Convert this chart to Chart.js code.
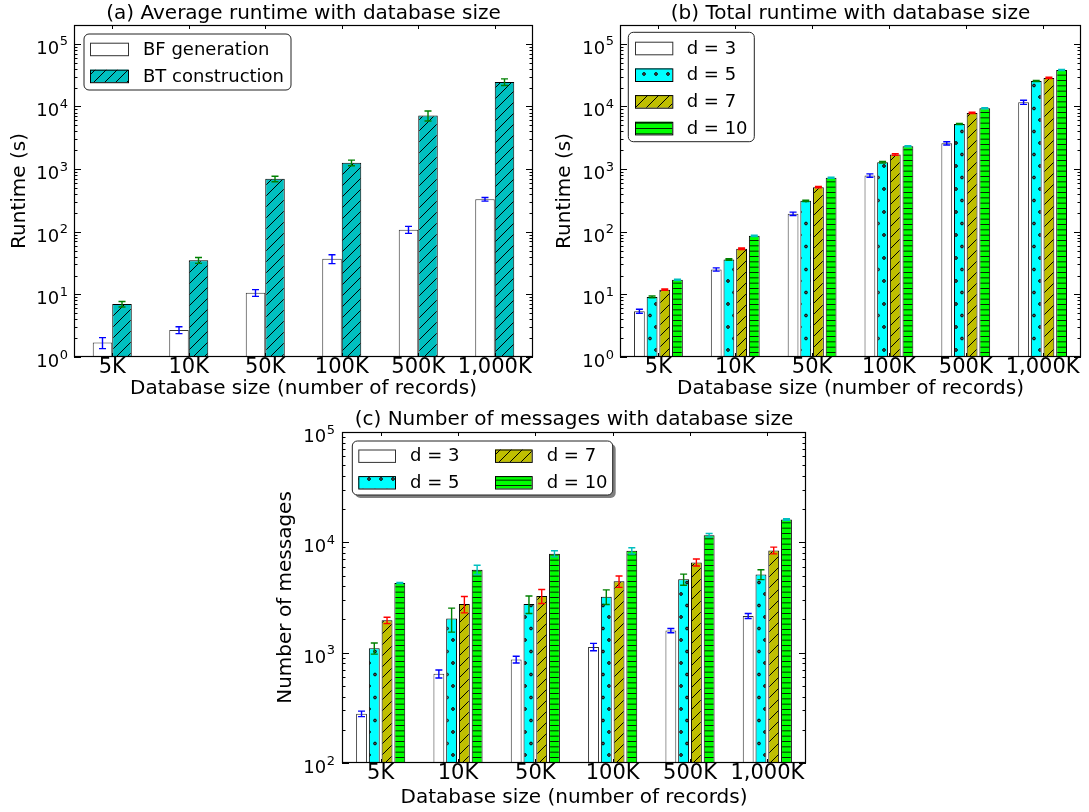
<!DOCTYPE html>
<html>
<head>
<meta charset="utf-8">
<script src="https://cdn.jsdelivr.net/npm/chart.js@4.4.1/dist/chart.umd.min.js"></script>
<style>
  html, body { margin: 0; padding: 0; background: #fff; }
  body { width: 1089px; height: 812px; position: relative; overflow: hidden; }
  .panel { position: absolute; }
</style>
</head>
<body>
<div class="panel" style="left:0;top:0"><canvas id="chartA" width="545" height="410"></canvas></div>
<div class="panel" style="left:545px;top:0"><canvas id="chartB" width="544" height="410"></canvas></div>
<div class="panel" style="left:270px;top:405px"><canvas id="chartC" width="560" height="407"></canvas></div>
<script>

/* =========================
   DATA
========================= */

const sizes = ['5K', '10K', '50K', '100K', '500K', '1,000K'];

// (a) average runtime (s)
const bfGeneration    = [1.7, 2.7, 10.6, 37, 108, 330];
const bfGenerationErr = [0.34, 0.34, 1.3, 6, 14, 22];
const btConstruction    = [7.0, 35, 700, 1260, 7160, 24600];
const btConstructionErr = [0.7, 3.8, 70, 130, 1300, 3000];

const depthLabels = ['d = 3', 'd = 5', 'd = 7', 'd = 10'];

// (b) total runtime (s)
const totalD3  = [5.4, 25, 194, 790, 2580, 11700];
const totalD5  = [9.1, 36, 312, 1290, 5270, 25500];
const totalD7  = [11.9, 53.6, 515, 1710, 7900, 28600];
const totalD10 = [17.1, 86, 726, 2320, 9350, 38400];
const totalD3Err  = [0.4, 1.5, 12, 50, 150, 900];
const totalD5Err  = [0.3, 1, 8, 40, 100, 600];
const totalD7Err  = [0.3, 1.5, 12, 50, 200, 700];
const totalD10Err = [0.3, 2, 15, 50, 200, 800];

// (c) number of messages
const msgD3  = [279, 643, 867, 1128, 1586, 2152];
const msgD5  = [1097, 2036, 2762, 3220, 4618, 5120];
const msgD7  = [1965, 2762, 3265, 4430, 6580, 8450];
const msgD10 = [4275, 5650, 7880, 8390, 11600, 16100];
const msgD3Err  = [16, 53, 62, 86, 71, 110];
const msgD5Err  = [127, 500, 500, 490, 530, 525];
const msgD7Err  = [130, 470, 475, 520, 480, 590];
const msgD10Err = [50, 545, 500, 550, 430, 250];

/* =========================
   STYLE HELPERS
========================= */

const FONT = '"DejaVu Sans", sans-serif';
Chart.defaults.font.family = FONT;
Chart.defaults.color = '#000';

function makePattern(bg, draw, w, h) {
    const c = document.createElement('canvas');
    c.width = w; c.height = h;
    const g = c.getContext('2d');
    g.fillStyle = bg;
    g.fillRect(0, 0, w, h);
    g.strokeStyle = '#000';
    g.fillStyle = '#000';
    g.lineWidth = 1;
    draw(g, w, h);
    return c.getContext('2d').createPattern(c, 'repeat');
}

function diagonal(g, w, h) {
    g.beginPath();
    g.moveTo(-1, h + 1); g.lineTo(w + 1, -1);
    g.moveTo(-1, 1); g.lineTo(1, -1);
    g.moveTo(w - 1, h + 1); g.lineTo(w + 1, h - 1);
    g.stroke();
}

function dots(g, w, h) {
    g.lineWidth = 0.9;
    [[3, 5], [9, 16.5]].forEach(p => {
        g.beginPath();
        g.arc(p[0], p[1], 1.4, 0, Math.PI * 2);
        g.fillStyle = '#555';
        g.fill();
        g.stroke();
    });
}

function horiz(g, w, h) {
    g.strokeStyle = 'rgba(0,0,0,0.85)';
    g.beginPath();
    [0.5, 5.83, 11.17].forEach(y => { g.moveTo(0, y); g.lineTo(w, y); });
    g.stroke();
}

const tealHatch  = makePattern('#00bfbf', diagonal, 11, 11);
const cyanDots   = makePattern('#00ffff', dots, 12, 23);
const oliveHatch = makePattern('#bfbf00', diagonal, 11, 11);
const limeLines  = makePattern('#00ff00', horiz, 16, 16);

/* =========================
   ERROR BARS, TICKS, FRAME, LEGEND
========================= */

function roundRect(ctx, x, y, w, h, r) {
    ctx.beginPath();
    ctx.moveTo(x + r, y);
    ctx.arcTo(x + w, y, x + w, y + h, r);
    ctx.arcTo(x + w, y + h, x, y + h, r);
    ctx.arcTo(x, y + h, x, y, r);
    ctx.arcTo(x, y, x + w, y, r);
    ctx.closePath();
}

const decor = {
    id: 'decor',
    afterDatasetsDraw(chart, args, opts) {
        const ctx = chart.ctx;
        const a = chart.chartArea;
        const x = chart.scales.x, y = chart.scales.y;

        // error bars
        chart.data.datasets.forEach((ds, i) => {
            const meta = chart.getDatasetMeta(i);
            ctx.save();
            ctx.strokeStyle = ds.errColor;
            ctx.lineWidth = 1.4;
            meta.data.forEach((bar, j) => {
                const v = ds.data[j], e = ds.errors[j];
                const yt = y.getPixelForValue(v + e);
                const yb = y.getPixelForValue(v - e);
                ctx.beginPath();
                ctx.moveTo(bar.x, yt); ctx.lineTo(bar.x, yb);
                ctx.moveTo(bar.x - 3.5, yt); ctx.lineTo(bar.x + 3.5, yt);
                ctx.moveTo(bar.x - 3.5, yb); ctx.lineTo(bar.x + 3.5, yb);
                ctx.stroke();
            });
            ctx.restore();
        });

        // inward ticks and power-of-ten labels
        ctx.save();
        ctx.strokeStyle = '#000';
        ctx.fillStyle = '#000';
        ctx.lineWidth = 1;
        ctx.beginPath();
        const lo = Math.floor(Math.log10(y.min)), hi = Math.ceil(Math.log10(y.max));
        for (let p = lo; p <= hi; p++) {
            for (let k = 1; k < 10; k++) {
                const v = k * Math.pow(10, p);
                if (v < y.min * 0.999 || v > y.max * 1.001) continue;
                const py = Math.round(y.getPixelForValue(v)) + 0.5;
                const len = k === 1 ? 7 : 3.5;
                ctx.moveTo(a.left, py); ctx.lineTo(a.left + len, py);
                ctx.moveTo(a.right, py); ctx.lineTo(a.right - len, py);
            }
        }
        sizes.forEach((s, i) => {
            const px = Math.round(x.getPixelForValue(i)) + 0.5;
            ctx.moveTo(px, a.bottom); ctx.lineTo(px, a.bottom - 4);
            ctx.moveTo(px, a.top); ctx.lineTo(px, a.top + 4);
        });
        ctx.stroke();

        ctx.textAlign = 'left';
        ctx.textBaseline = 'alphabetic';
        for (let p = lo; p <= hi; p++) {
            const v = Math.pow(10, p);
            if (v < y.min * 0.999 || v > y.max * 1.001) continue;
            const py = y.getPixelForValue(v);
            ctx.font = '13px ' + FONT;
            const we = ctx.measureText(String(p)).width;
            ctx.font = '18px ' + FONT;
            const wb = ctx.measureText('10').width;
            const right = a.left - opts.tickPad;
            ctx.fillText('10', right - we - wb - 0.5, py + 10);
            ctx.font = '13px ' + FONT;
            ctx.fillText(String(p), right - we, py + 1.5);
        }

        // frame
        ctx.lineWidth = 1.2;
        ctx.strokeRect(a.left + 0.5, a.top + 0.5, a.right - a.left - 1, a.bottom - a.top - 1);
        ctx.restore();

        // legend
        const L = opts.box;
        const bx = a.left + L.x, by = a.top + L.y;
        ctx.save();
        if (L.shadow) {
            ctx.fillStyle = 'rgba(0,0,0,0.5)';
            roundRect(ctx, bx + 3, by + 3, L.w, L.h, 5);
            ctx.fill();
        }
        ctx.fillStyle = '#fff';
        roundRect(ctx, bx, by, L.w, L.h, 5);
        ctx.fill();
        ctx.strokeStyle = '#222';
        ctx.lineWidth = 1;
        ctx.stroke();
        ctx.font = '18px ' + FONT;
        ctx.textBaseline = 'middle';
        chart.data.datasets.forEach((ds, i) => {
            const col = Math.floor(i / L.rows), row = i % L.rows;
            const sx = bx + L.pad + col * L.colW;
            const sy = by + L.top + row * L.rowH;
            ctx.fillStyle = ds.backgroundColor;
            ctx.fillRect(sx, sy, L.sw, L.sh);
            ctx.strokeStyle = ds.borderColor;
            ctx.lineWidth = 1;
            ctx.strokeRect(sx + 0.5, sy + 0.5, L.sw, L.sh);
            ctx.fillStyle = '#000';
            ctx.fillText(ds.label, sx + L.sw + L.gap, sy + L.sh / 2 + 1);
        });
        ctx.restore();
    }
};

/* =========================
   CHART BUILDER
========================= */

function makeChart(id, datasets, cfg) {
    return new Chart(document.getElementById(id), {
        type: 'bar',
        data: { labels: sizes, datasets: datasets },
        options: {
            responsive: false,
            animation: false,
            events: [],
            barPercentage: cfg.barPct,
            categoryPercentage: cfg.catPct,
            layout: { padding: { left: 0, right: cfg.padRight, top: 0, bottom: 0 } },
            plugins: {
                legend: { display: false },
                tooltip: { enabled: false },
                title: {
                    display: true,
                    text: cfg.title,
                    fullSize: false,
                    color: '#000',
                    font: { size: 20, weight: 'normal', lineHeight: 1.1 },
                    padding: { top: cfg.titleTop, bottom: cfg.titleBottom }
                },
                decor: { box: cfg.box, tickPad: cfg.yTickPad }
            },
            scales: {
                x: {
                    grid: { display: false, drawTicks: false },
                    border: { display: false },
                    ticks: { color: '#000', font: { size: 21, lineHeight: 1.0 }, padding: 0, maxRotation: 0, autoSkip: false },
                    title: {
                        display: true,
                        text: 'Database size (number of records)',
                        color: '#000',
                        font: { size: 20 },
                        padding: { top: 0, bottom: cfg.xTitleBottom }
                    },
                    afterFit: s => { s.height = cfg.xHeight; s.paddingLeft = 0; s.paddingRight = 0; }
                },
                y: {
                    type: 'logarithmic',
                    min: cfg.yMin,
                    max: cfg.yMax,
                    grid: { display: false, drawTicks: false },
                    border: { display: false },
                    ticks: { display: false },
                    title: {
                        display: true,
                        text: cfg.yTitle,
                        color: '#000',
                        font: { size: 20 },
                        padding: { top: cfg.yTitleTop, bottom: 0 }
                    },
                    afterFit: s => { s.width = cfg.yWidth; s.paddingTop = 0; s.paddingBottom = 0; }
                }
            }
        },
        plugins: [decor]
    });
}

function depthSets(d3, d5, d7, d10, e3, e5, e7, e10) {
    return [
        { label: depthLabels[0], data: d3, errors: e3, errColor: '#0000ff', backgroundColor: '#ffffff', borderColor: '#333', borderWidth: 1 },
        { label: depthLabels[1], data: d5, errors: e5, errColor: '#008000', backgroundColor: cyanDots, borderColor: '#000', borderWidth: 1 },
        { label: depthLabels[2], data: d7, errors: e7, errColor: '#ff0000', backgroundColor: oliveHatch, borderColor: '#000', borderWidth: 1 },
        { label: depthLabels[3], data: d10, errors: e10, errColor: '#00bfbf', backgroundColor: limeLines, borderColor: '#000', borderWidth: 1 }
    ];
}

/* =========================
   (a) AVERAGE RUNTIME
========================= */

makeChart('chartA', [
    { label: 'BF generation', data: bfGeneration, errors: bfGenerationErr, errColor: '#0000ff', backgroundColor: '#ffffff', borderColor: '#333', borderWidth: 1 },
    { label: 'BT construction', data: btConstruction, errors: btConstructionErr, errColor: '#008000', backgroundColor: tealHatch, borderColor: '#000', borderWidth: 1 }
], {
    title: '(a) Average runtime with database size',
    yTitle: 'Runtime (s)',
    yMin: 1, yMax: 2e5,
    barPct: 1, catPct: 0.51,
    padRight: 12, yWidth: 74, xHeight: 53,
    titleTop: 2.3, titleBottom: 0.7,
    xTitleBottom: 9, yTitleTop: 7.5, yTickPad: 6,
    box: { x: 10, y: 9, w: 207, h: 56, rows: 2, pad: 6, top: 8.7, rowH: 27, colW: 0, sw: 38, sh: 12.5, gap: 15, shadow: false }
});

/* =========================
   (b) TOTAL RUNTIME
========================= */

makeChart('chartB', depthSets(totalD3, totalD5, totalD7, totalD10, totalD3Err, totalD5Err, totalD7Err, totalD10Err), {
    title: '(b) Total runtime with database size',
    yTitle: 'Runtime (s)',
    yMin: 1, yMax: 2e5,
    barPct: 0.85, catPct: 0.66,
    padRight: 8, yWidth: 75, xHeight: 53,
    titleTop: 2.3, titleBottom: 0.7,
    xTitleBottom: 9, yTitleTop: 8, yTickPad: 6,
    box: { x: 8.3, y: 7.3, w: 126, h: 109.4, rows: 4, pad: 6.7, top: 9.4, rowH: 26.7, colW: 0, sw: 37.3, sh: 12.6, gap: 14.4, shadow: false }
});

/* =========================
   (c) NUMBER OF MESSAGES
========================= */

makeChart('chartC', depthSets(msgD3, msgD5, msgD7, msgD10, msgD3Err, msgD5Err, msgD7Err, msgD10Err), {
    title: '(c) Number of messages with database size',
    yTitle: 'Number of messages',
    yMin: 100, yMax: 1e5,
    barPct: 0.85, catPct: 0.66,
    padRight: 24, yWidth: 72, xHeight: 49,
    titleTop: 3.5, titleBottom: 1.5,
    xTitleBottom: 2, yTitleTop: 3.7, yTickPad: 7,
    box: { x: 10.3, y: 9, w: 260.4, h: 54, rows: 2, pad: 6, top: 8.5, rowH: 26.6, colW: 136.7, sw: 36.7, sh: 12.4, gap: 15, shadow: true }
});

</script>
</body>
</html>
